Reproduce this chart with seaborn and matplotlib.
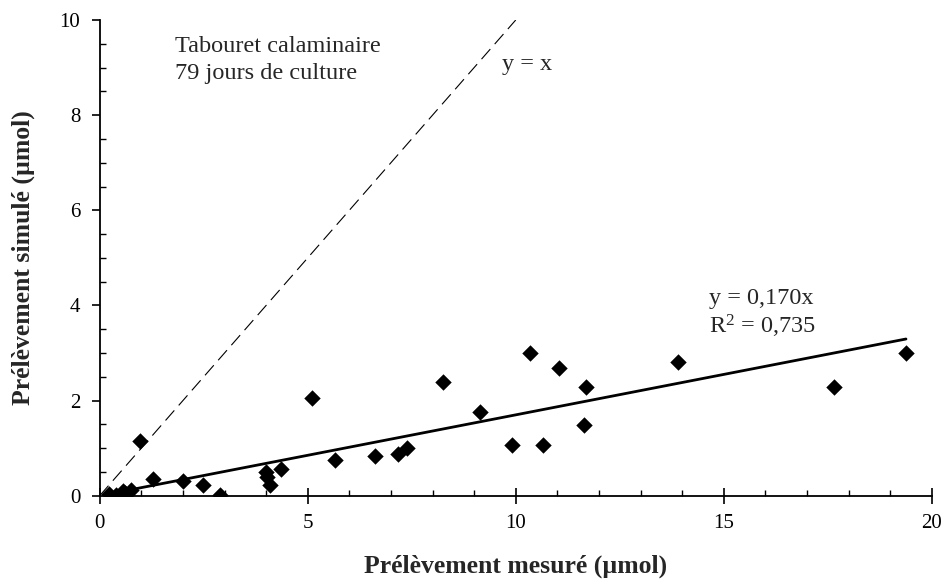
import numpy as np
import pandas as pd
import matplotlib
matplotlib.use("Agg")
import matplotlib.pyplot as plt
from matplotlib.ticker import MultipleLocator
import seaborn as sns

# Data
measured = [0.22, 0.38, 0.55, 0.61, 0.75, 0.98, 1.28, 2.00, 2.48, 2.88,
            4.00, 4.02, 4.10, 4.36, 5.10, 5.65, 6.62, 7.16, 7.38, 8.26,
            9.13, 9.90, 10.34, 10.65, 11.03, 11.70, 11.65, 13.90, 17.66, 19.38]
simulated = [0.04, 0.02, 0.10, 0.06, 0.12, 1.14, 0.35, 0.30, 0.22, 0.02,
             0.49, 0.39, 0.22, 0.57, 2.05, 0.76, 0.83, 0.88, 1.00, 2.40,
             1.77, 1.07, 3.00, 1.07, 2.69, 2.28, 1.48, 2.82, 2.29, 3.00]
slope = 0.170
r2 = 0.735
identity_x = [0, 10]

df = pd.DataFrame({"mesure": measured, "simule": simulated})

sns.set_style("white")
plt.rcParams["font.family"] = ["Liberation Serif", "DejaVu Serif"]
plt.rcParams["mathtext.fontset"] = "custom"
plt.rcParams["mathtext.rm"] = "Liberation Serif"
plt.rcParams["mathtext.it"] = "Liberation Serif:italic"

fig = plt.figure(figsize=(9.45, 5.8), dpi=100)
ax = fig.add_axes([0.1055, 0.1453, 0.8805, 0.8202])

# y = x dashed line
ax.plot(identity_x, identity_x, color="black", lw=0.8, dashes=(12, 6))

# trendline through origin
xfit = [min(measured), max(measured)]
ax.plot(xfit, [slope * v for v in xfit], color="black", lw=2.0)

sns.scatterplot(data=df, x="mesure", y="simule", marker="D", color="black",
                s=70, edgecolor="black", linewidth=0, ax=ax, zorder=3)

ax.set_xlim(0, 20)
ax.set_ylim(0, 10)
ax.xaxis.set_major_locator(MultipleLocator(5))
ax.xaxis.set_minor_locator(MultipleLocator(1))
ax.yaxis.set_major_locator(MultipleLocator(2))
ax.yaxis.set_minor_locator(MultipleLocator(0.5))
ax.tick_params(which="both", bottom=True, left=True, top=False, right=False)
ax.tick_params(axis="x", which="major", direction="inout", length=12, width=1.2,
               labelsize=15, pad=7, color="black", labelcolor="black")
ax.tick_params(axis="y", which="major", direction="out", length=6, width=1.2,
               labelsize=15, pad=8, color="black", labelcolor="black")
ax.tick_params(which="minor", direction="in", length=4, width=1.0, color="black")

for side in ["top", "right"]:
    ax.spines[side].set_visible(False)
for side in ["left", "bottom"]:
    ax.spines[side].set_color("black")
    ax.spines[side].set_linewidth(1.3)

ax.set_xlabel("Prélèvement mesuré (µmol)", fontsize=18.5, fontweight="bold", labelpad=16)
ax.set_ylabel("Prélèvement simulé (µmol)", fontsize=18.5, fontweight="bold", labelpad=18)

ax.text(1.81, 9.66, "Tabouret calaminaire\n79 jours de culture", fontsize=17.5,
        va="top", ha="left", linespacing=1.34)
ax.text(9.67, 9.07, "y = x", fontsize=17.5, va="center", ha="left")
ax.text(14.65, 4.15, "y = 0,170x", fontsize=17.5, va="center", ha="left")
ax.text(14.65, 3.55, r"R$^{2}$ = 0,735", fontsize=17.5, va="center", ha="left")

fig.savefig("out.png", dpi=100)
